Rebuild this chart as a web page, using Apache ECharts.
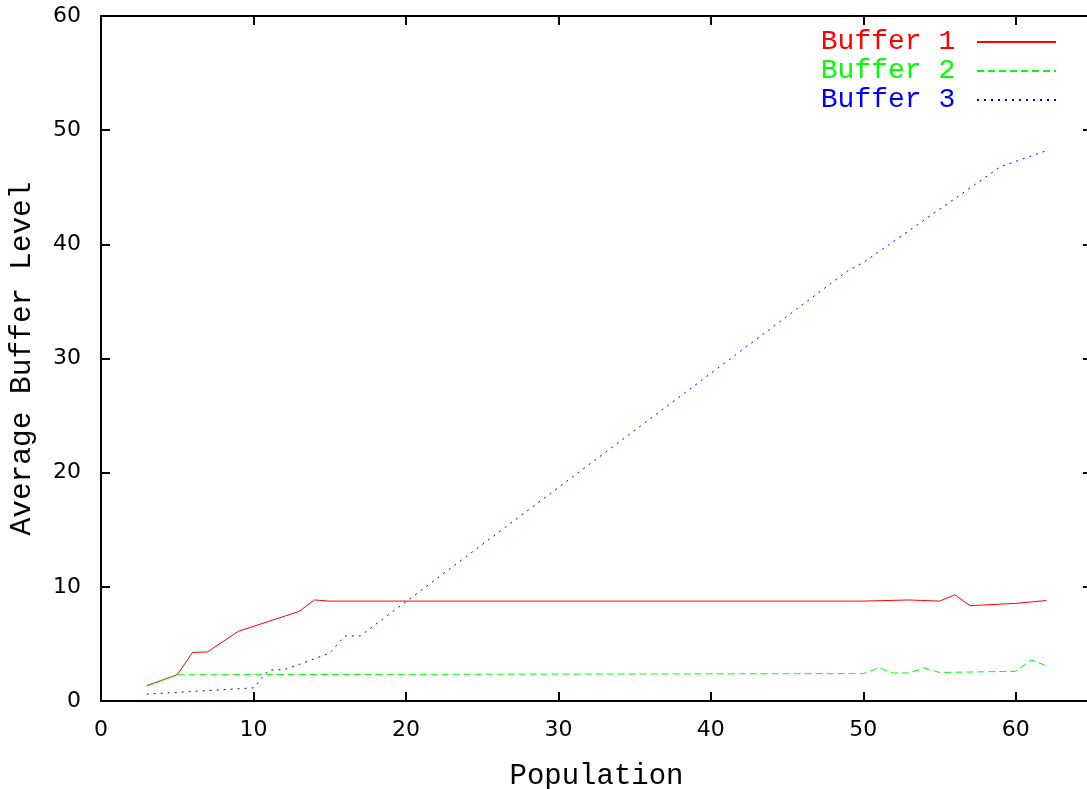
<!DOCTYPE html>
<html>
<head>
<meta charset="utf-8">
<script src="https://cdn.jsdelivr.net/npm/echarts@6/dist/echarts.min.js"></script>
<style>
  html, body { margin: 0; padding: 0; background: #fff; }
  #chart { width: 1087px; height: 789px; }
</style>
</head>
<body>
<div id="chart"></div>
<script>
// Average buffer level against population, one series per buffer
const seriesNames = ['Buffer 1', 'Buffer 2', 'Buffer 3'];

const buffer1X = [3, 5, 6, 7, 9, 13, 14, 15, 50, 53, 55, 56, 57, 60, 62];
const buffer1Y = [1.35, 2.3, 4.25, 4.3, 6.1, 7.85, 8.85, 8.75, 8.75, 8.85, 8.75, 9.3, 8.35, 8.55, 8.8];

const buffer2X = [3, 5, 50, 51, 52, 53, 54, 55, 60, 61, 62];
const buffer2Y = [1.3, 2.3, 2.4, 2.9, 2.45, 2.45, 2.9, 2.5, 2.6, 3.6, 3.1];

const buffer3X = [3, 10, 11, 12, 13, 14, 15, 16, 17, 49, 50, 59, 62];
const buffer3Y = [0.6, 1.15, 2.7, 2.75, 3.2, 3.7, 4.2, 5.7, 5.7, 37.7, 38.4, 46.8, 48.2];

const xTicks = [0, 10, 20, 30, 40, 50, 60];
const yTicks = [0, 10, 20, 30, 40, 50, 60];

const colors = ['#ff0000', '#00ff00', '#0000ff'];
const dashes = ['solid', [7, 4], [2, 5]];

const pairs = (xs, ys) => xs.map((x, i) => [x, ys[i]]);
const seriesData = [pairs(buffer1X, buffer1Y), pairs(buffer2X, buffer2Y), pairs(buffer3X, buffer3Y)];

const monoFont = '"Liberation Mono", "DejaVu Sans Mono", monospace';
const numFont = '"DejaVu Sans", sans-serif';

const axisBase = {
  type: 'value',
  min: 0,
  interval: 10,
  splitLine: { show: false },
  axisLine: { show: true, onZero: false, lineStyle: { color: '#000', width: 2 } },
  axisTick: { show: true, inside: true, length: 9, lineStyle: { color: '#000', width: 2 } }
};

const chart = echarts.init(document.getElementById('chart'), null, { renderer: 'canvas' });

chart.setOption({
  animation: false,
  backgroundColor: '#fff',
  grid: {
    left: 101, top: 16, width: 991, height: 685,
    containLabel: false,
    outerBoundsMode: 'none'
  },
  xAxis: [
    Object.assign({}, axisBase, {
      position: 'bottom',
      max: 65,
      name: 'Population',
      nameLocation: 'middle',
      nameGap: 61,
      nameTextStyle: { fontFamily: monoFont, fontSize: 29, color: '#000' },
      axisLabel: {
        margin: 18,
        fontFamily: numFont,
        fontSize: 22,
        color: '#000',
        formatter: v => (xTicks.indexOf(v) >= 0 ? String(v) : '')
      }
    }),
    Object.assign({}, axisBase, {
      position: 'top',
      max: 65,
      axisLabel: { show: false }
    })
  ],
  yAxis: [
    Object.assign({}, axisBase, {
      position: 'left',
      max: 60,
      name: 'Average Buffer Level',
      nameLocation: 'middle',
      nameGap: 64,
      nameRotate: 90,
      nameTextStyle: { fontFamily: monoFont, fontSize: 29.5, color: '#000' },
      axisLabel: {
        margin: 20,
        fontFamily: numFont,
        fontSize: 22,
        color: '#000',
        formatter: v => (yTicks.indexOf(v) >= 0 ? String(v) : '')
      }
    }),
    Object.assign({}, axisBase, {
      position: 'right',
      max: 60,
      axisLabel: { show: false }
    })
  ],
  legend: {
    orient: 'vertical',
    right: 30,
    top: 28,
    align: 'right',
    itemWidth: 79,
    itemHeight: 14,
    itemGap: 1,
    padding: 0,
    itemStyle: { opacity: 0, borderWidth: 0 },
    formatter: name => name + ' ',
    data: seriesNames.map((n, i) => ({
      name: n,
      textStyle: { color: colors[i], fontFamily: monoFont, fontSize: 28, lineHeight: 28 }
    }))
  },
  series: seriesNames.map((n, i) => ({
    name: n,
    type: 'line',
    data: seriesData[i],
    symbol: 'none',
    showSymbol: false,
    clip: true,
    lineStyle: { color: colors[i], width: 1, type: dashes[i] },
    itemStyle: { color: colors[i] },
    z: 2 + i
  }))
});
</script>
</body>
</html>
